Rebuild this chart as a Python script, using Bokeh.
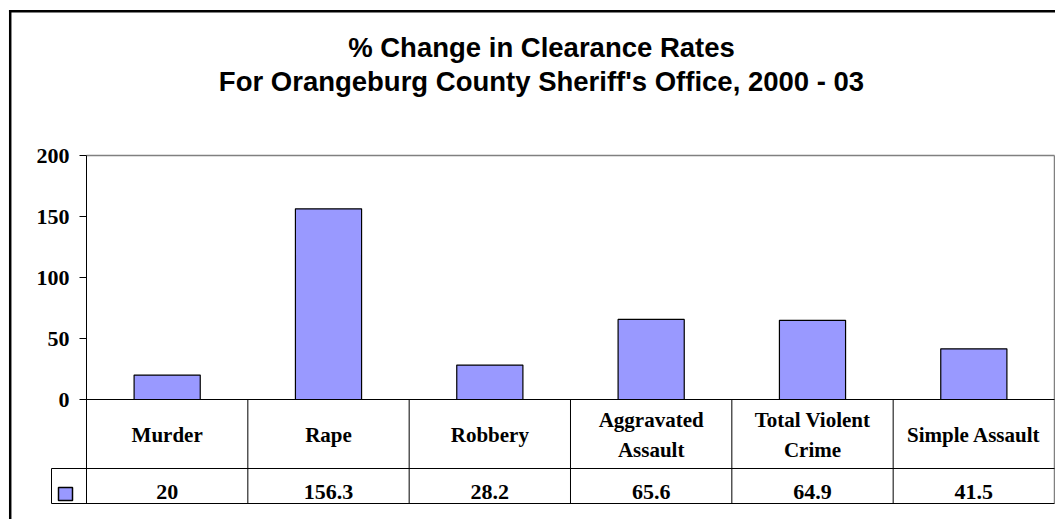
from bokeh.plotting import figure
from bokeh.models import Range1d, FixedTicker
from bokeh.core.properties import value
from bokeh.embed import file_html
from bokeh.resources import INLINE

# ---- data ----
categories = ["Murder", "Rape", "Robbery", "Aggravated\nAssault",
              "Total Violent\nCrime", "Simple Assault"]
values = [20, 156.3, 28.2, 65.6, 64.9, 41.5]
y_ticks = [0, 50, 100, 150, 200]
title_lines = ["% Change in Clearance Rates",
               "For Orangeburg County Sheriff's Office, 2000 - 03"]

# ---- layout (pixel geometry -> data units) ----
W, H = 1055, 519
X0_PX, COL_PX = 86.0, 161.333      # left edge of plot area, column width
ZERO_PX, UNIT_PX = 399.0, 1.22     # y pixel of value 0, pixels per unit
PANEL = 60                         # space reserved for the axis panel
FRAME_LEFT = 8                     # page x where the drawing frame starts
SHIFT = PANEL - FRAME_LEFT         # canvas is shifted left by this much


def xd(px):
    return (px - X0_PX) / COL_PX


def yd(py):
    return (ZERO_PX - py) / UNIT_PX


N = len(categories)
xs = [i + 0.5 for i in range(N)]
Y_TOP = y_ticks[-1]
TABLE_ROW = yd(468)
TABLE_BOTTOM = yd(503)

BAR_COLOR = "#9999FF"
SERIF = value("Liberation Serif")
SANS = value("Liberation Sans")

p = figure(width=W + SHIFT, height=H,
           x_range=Range1d(xd(FRAME_LEFT), xd(W)),
           y_range=Range1d(yd(H), yd(0)),
           output_backend="svg", toolbar_location=None,
           x_axis_location=None, title=None,
           min_border_left=PANEL, min_border_right=0,
           min_border_top=0, min_border_bottom=0,
           outline_line_color=None,
           background_fill_color="white", border_fill_color="white")
p.styles = {"margin-left": f"-{SHIFT}px"}
p.xgrid.visible = False
p.ygrid.visible = False

# value axis, drawn at the left edge of the plot area
ax = p.yaxis[0]
ax.fixed_location = 0
ax.bounds = (TABLE_BOTTOM, Y_TOP)
ax.ticker = FixedTicker(ticks=y_ticks)
ax.axis_line_color = "black"
ax.axis_line_width = 1
ax.major_tick_line_color = "black"
ax.major_tick_out = 7
ax.major_tick_in = 0
ax.minor_tick_line_color = None
ax.major_label_standoff = 10
ax.major_label_text_font = "Liberation Serif"
ax.major_label_text_font_style = "bold"
ax.major_label_text_font_size = "22px"
ax.major_label_text_color = "black"

# outer chart-area border (left and top edges)
p.segment(x0=[xd(9.7), xd(8.45)], y0=[yd(9.45), yd(10.7)],
          x1=[xd(9.7), xd(W)], y1=[yd(H), yd(10.7)],
          line_color="black", line_width=2.5)

# plot-area border (top / right, grey)
p.segment(x0=[0, N], y0=[Y_TOP, Y_TOP], x1=[N, N], y1=[Y_TOP, TABLE_BOTTOM],
          line_color="#808080", line_width=1.5)

# title
p.text(x=[xd(541)] * 2, y=[yd(46.5), yd(80.5)], text=title_lines,
       text_align="center", text_baseline="middle", text_font=SANS,
       text_font_style="bold", text_font_size="27.5px", text_color="black")

# bars
p.vbar(x=xs, top=values, bottom=0, width=0.41,
       fill_color=BAR_COLOR, line_color="black", line_width=1.2)

# data table grid
p.segment(x0=[0], y0=[0], x1=[N], y1=[0], line_color="black", line_width=1)
p.segment(x0=[xd(51)] * 2, y0=[TABLE_ROW, TABLE_BOTTOM],
          x1=[N] * 2, y1=[TABLE_ROW, TABLE_BOTTOM],
          line_color="black", line_width=1)
p.segment(x0=list(range(1, N)), y0=[0] * (N - 1),
          x1=list(range(1, N)), y1=[TABLE_BOTTOM] * (N - 1),
          line_color="black", line_width=1)
p.segment(x0=[xd(51)], y0=[TABLE_ROW], x1=[xd(51)], y1=[TABLE_BOTTOM],
          line_color="black", line_width=1)

# legend key in the table
p.quad(left=[xd(58)], right=[xd(72)], top=[yd(487)], bottom=[yd(500)],
       fill_color=BAR_COLOR, line_color="black", line_width=1.5)

# table text
p.text(x=xs, y=[yd(434)] * N, text=categories, text_align="center",
       text_baseline="middle", text_font=SERIF, text_font_style="bold",
       text_font_size="21px", text_line_height=1.25, text_color="black")
p.text(x=xs, y=[yd(491)] * N, text=[f"{v:g}" for v in values],
       text_align="center", text_baseline="middle", text_font=SERIF,
       text_font_style="bold", text_font_size="22px", text_color="black")

open("out.html", "w").write(file_html(p, INLINE))
